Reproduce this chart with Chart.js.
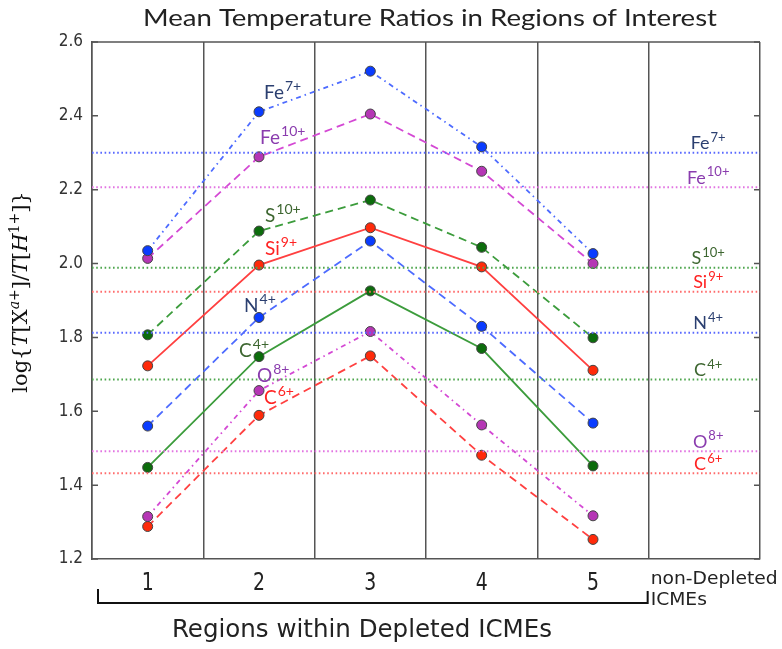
<!DOCTYPE html>
<html>
<head>
<meta charset="utf-8">
<script src="https://cdn.jsdelivr.net/npm/chart.js@4.4.1/dist/chart.umd.min.js"></script>
<style>
  body { margin: 0; background: #fff; }
  #wrap { width: 782px; height: 649px; position: relative; }
</style>
</head>
<body>
<div id="wrap"><canvas id="chart"></canvas></div>
<script>
// Region centres along the x axis (6th bin = non-depleted ICMEs, no points)
const regions = [1, 2, 3, 4, 5];

// log{T[X]/T[H]} per region
const fe7  = [2.035, 2.411, 2.521, 2.316, 2.027];
const fe10 = [2.014, 2.289, 2.405, 2.250, 2.000];
const s10  = [1.807, 2.088, 2.172, 2.044, 1.799];
const si9  = [1.723, 1.996, 2.097, 1.991, 1.711];
const n4   = [1.560, 1.854, 2.061, 1.830, 1.568];
const c4   = [1.448, 1.748, 1.926, 1.770, 1.452];
const o8   = [1.315, 1.656, 1.816, 1.563, 1.317];
const c6   = [1.288, 1.589, 1.750, 1.481, 1.253];

// Non-depleted ICME means (dotted reference lines), same ion order
const ions      = ['Fe', 'Fe', 'S', 'Si', 'N', 'C', 'O', 'C'];
const charges   = ['7+', '10+', '10+', '9+', '4+', '4+', '8+', '6+'];
const refValues = [2.300, 2.207, 1.989, 1.924, 1.813, 1.686, 1.492, 1.432];

// Where the in-plot ion labels sit (data units: left x, mid y)
const labelX = [2.045, 2.01, 2.054, 2.054, 1.866, 1.821, 1.982, 2.045];
const labelY = [2.465, 2.343, 2.132, 2.042, 1.888, 1.766, 1.698, 1.639];

const yTicks = [1.2, 1.4, 1.6, 1.8, 2.0, 2.2, 2.4, 2.6];
const xEdges = [0.5, 1.5, 2.5, 3.5, 4.5, 5.5, 6.5];

const BLUE = { line: '#4d6bff', point: '#0a3cff', ref: '#5868ff', text: '#2b3f70' };
const MAG  = { line: '#d449d4', point: '#b536b5', ref: '#e274e2', text: '#8a3cae' };
const GRN  = { line: '#3c9c3c', point: '#0c6c0c', ref: '#4ea64e', text: '#3d6630' };
const RED  = { line: '#ff4040', point: '#ff2a0a', ref: '#ff6b6b', text: '#ff2222' };

const DOT = [1.6, 2.6];
const DASH = [8, 5];
const DASHDOT = [5, 4, 1.5, 4];

const seriesData   = [fe7, fe10, s10, si9, n4, c4, o8, c6];
const seriesColor  = [BLUE, MAG, GRN, RED, BLUE, GRN, MAG, RED];
const seriesDash   = [DASHDOT, DASH, DASH, [], DASH, [], DASHDOT, DASH];

const NARROW = '"DejaVu Sans Condensed", "DejaVu Sans", sans-serif';
const ROUND = 'Lato, "Noto Sans", sans-serif';

const datasets = [];

// reference lines first so they sit under everything
refValues.forEach((v, i) => {
    datasets.push({
        label: 'ref ' + ions[i] + charges[i],
        data: [{ x: 0.5, y: v }, { x: 6.5, y: v }],
        borderColor: seriesColor[i].ref,
        borderWidth: 2,
        borderDash: DOT,
        pointRadius: 0,
        fill: false
    });
});

seriesData.forEach((vals, i) => {
    datasets.push({
        label: ions[i] + charges[i],
        data: regions.map((r, j) => ({ x: r, y: vals[j] })),
        borderColor: seriesColor[i].line,
        borderWidth: 1.8,
        borderDash: seriesDash[i],
        pointRadius: 5,
        pointBackgroundColor: seriesColor[i].point,
        pointBorderColor: '#444',
        pointBorderWidth: 1,
        fill: false,
        tension: 0
    });
});

// draws a base word with a superscript; align 'left' or 'center'
function drawIon(ctx, base, sup, x, yMid, color, size, align) {
    const baseFont = size + 'px ' + ROUND;
    const supFont = Math.round(size * 0.72) + 'px ' + ROUND;
    ctx.font = baseFont;
    const wb = ctx.measureText(base).width;
    ctx.font = supFont;
    const ws = ctx.measureText(sup).width;
    const x0 = align === 'center' ? x - (wb + ws) / 2 : x;
    const baseline = yMid + size * 0.36;
    ctx.fillStyle = color;
    ctx.textAlign = 'left';
    ctx.textBaseline = 'alphabetic';
    ctx.font = baseFont;
    ctx.fillText(base, x0, baseline);
    ctx.font = supFont;
    ctx.fillText(sup, x0 + wb + 1, baseline - size * 0.4);
}

// text squeezed/stretched horizontally by sx, centred on cx
function drawScaled(ctx, text, cx, y, font, sx) {
    ctx.save();
    ctx.font = font;
    ctx.translate(cx, y);
    ctx.scale(sx, 1);
    ctx.textAlign = 'center';
    ctx.fillText(text, 0, 0);
    ctx.restore();
}

// same, but the scale is picked so the text is `width` px wide
function drawFitted(ctx, text, cx, y, font, width) {
    ctx.font = font;
    const w = ctx.measureText(text).width;
    drawScaled(ctx, text, cx, y, font, width / w);
}

const decor = {
    id: 'decor',
    beforeDatasetsDraw(chart) {
        const { ctx, chartArea } = chart;
        ctx.save();
        ctx.strokeStyle = '#555';
        ctx.lineWidth = 1.5;
        ctx.beginPath();
        ctx.moveTo(chartArea.left, chartArea.top);
        ctx.lineTo(chartArea.right, chartArea.top);
        ctx.stroke();

        // inward ticks on both spines
        const ys = chart.scales.y;
        yTicks.forEach(v => {
            const py = ys.getPixelForValue(v);
            ctx.beginPath();
            ctx.moveTo(chartArea.left, py);
            ctx.lineTo(chartArea.left + 6, py);
            ctx.moveTo(chartArea.right, py);
            ctx.lineTo(chartArea.right - 6, py);
            ctx.stroke();
        });
        ctx.restore();
    },
    afterDraw(chart) {
        const { ctx, chartArea } = chart;
        const xs = chart.scales.x, ys = chart.scales.y;
        ctx.save();

        // title
        ctx.fillStyle = '#222';
        ctx.textBaseline = 'alphabetic';
        drawFitted(ctx, 'Mean Temperature Ratios in Regions of Interest', 430, 26, '24px ' + ROUND, 574);

        // in-plot labels
        ions.forEach((ion, i) => {
            drawIon(ctx, ion, charges[i], xs.getPixelForValue(labelX[i]), ys.getPixelForValue(labelY[i]),
                seriesColor[i].text, 19, 'left');
        });

        // labels for the non-depleted reference lines
        const cx = xs.getPixelForValue(6.03);
        ions.forEach((ion, i) => {
            drawIon(ctx, ion, charges[i], cx, ys.getPixelForValue(refValues[i]) - 10,
                seriesColor[i].text, 18, 'center');
        });

        // y tick labels
        ctx.fillStyle = '#333';
        ctx.textAlign = 'right';
        ctx.textBaseline = 'middle';
        ctx.font = '17px ' + NARROW;
        yTicks.forEach(v => {
            ctx.fillText(v.toFixed(1), chartArea.left - 9, ys.getPixelForValue(v));
        });

        // x tick labels
        ctx.fillStyle = '#222';
        ctx.textBaseline = 'alphabetic';
        regions.forEach(r => {
            drawFitted(ctx, String(r), xs.getPixelForValue(r), chartArea.bottom + 31, '25px ' + NARROW, 12);
        });

        // label for the 6th bin, left aligned at its grid line
        const nx = xs.getPixelForValue(5.5) + 2;
        const nFont = '18px ' + NARROW;
        ctx.font = nFont;
        const nw = ctx.measureText('non-Depleted').width;
        const sx = 127 / nw;
        drawScaled(ctx, 'non-Depleted', nx + nw * sx / 2, chartArea.bottom + 25, nFont, sx);
        ctx.font = nFont;
        const iw = ctx.measureText('ICMEs').width;
        drawScaled(ctx, 'ICMEs', nx + iw * sx / 2, chartArea.bottom + 46, nFont, sx);

        // bracket under regions 1-5
        const bx0 = xs.getPixelForValue(0.5) + 6;
        const bx1 = xs.getPixelForValue(5.5) - 1;
        const byTop = chartArea.bottom + 30;
        const byBot = chartArea.bottom + 44;
        ctx.strokeStyle = '#111';
        ctx.lineWidth = 2;
        ctx.beginPath();
        ctx.moveTo(bx0, byTop);
        ctx.lineTo(bx0, byBot);
        ctx.lineTo(bx1, byBot);
        ctx.lineTo(bx1, byTop + 2);
        ctx.stroke();

        drawFitted(ctx, 'Regions within Depleted ICMEs', 362, chartArea.bottom + 78, '25px ' + NARROW, 380);

        // y axis label, math style
        const parts = [
            { t: 'log{', it: false }, { t: 'T', it: true }, { t: '[', it: false },
            { t: 'X', it: false }, { t: 'a', it: true, sup: true }, { t: '+', it: false, sup: true },
            { t: ']/', it: false }, { t: 'T', it: true }, { t: '[', it: false },
            { t: 'H', it: true }, { t: '1+', it: false, sup: true }, { t: ']}', it: false }
        ];
        const fontFor = p => (p.it ? 'italic ' : '') + (p.sup ? '14px' : '21px') +
            ' "DejaVu Serif", "Liberation Serif", serif';
        let total = 0;
        parts.forEach(p => { ctx.font = fontFor(p); total += ctx.measureText(p.t).width; });
        ctx.translate(27, 292);
        ctx.rotate(-Math.PI / 2);
        ctx.textAlign = 'left';
        ctx.fillStyle = '#111';
        let px = -total / 2;
        parts.forEach(p => {
            ctx.font = fontFor(p);
            ctx.fillText(p.t, px, p.sup ? -8 : 0);
            px += ctx.measureText(p.t).width;
        });

        ctx.restore();
    }
};

new Chart(document.getElementById('chart'), {
    type: 'line',
    data: { datasets },
    options: {
        responsive: true,
        maintainAspectRatio: false,
        animation: false,
        layout: { padding: { top: 42, right: 22, left: 0, bottom: 0 } },
        plugins: {
            legend: { display: false },
            tooltip: { enabled: false }
        },
        scales: {
            x: {
                type: 'linear',
                min: 0.5,
                max: 6.5,
                afterBuildTicks: scale => { scale.ticks = xEdges.map(v => ({ value: v })); },
                afterFit: scale => { scale.height = 90; },
                ticks: { display: false },
                grid: { color: '#555', lineWidth: 1.5, drawTicks: false },
                border: { color: '#555', width: 1.5 }
            },
            y: {
                min: 1.2,
                max: 2.6,
                afterBuildTicks: scale => { scale.ticks = yTicks.map(v => ({ value: v })); },
                afterFit: scale => { scale.width = 92; },
                ticks: { display: false },
                grid: { display: false, drawTicks: false },
                border: { color: '#555', width: 1.5 }
            }
        }
    },
    plugins: [decor]
});
</script>
</body>
</html>
